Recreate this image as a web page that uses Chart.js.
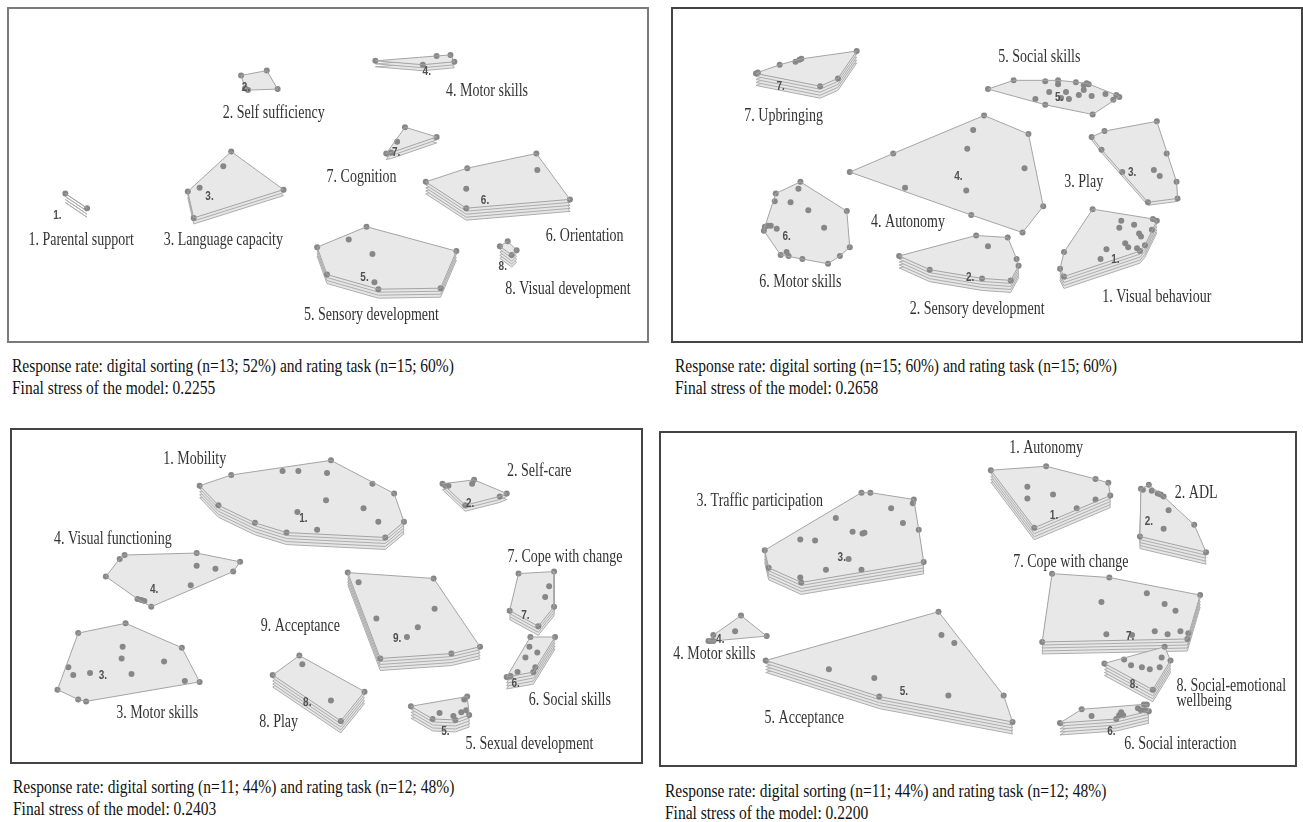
<!DOCTYPE html>
<html>
<head>
<meta charset="utf-8">
<script src="https://cdn.jsdelivr.net/npm/chart.js@4"></script>
<style>
  body { margin: 0; background: #fff; width: 1303px; height: 822px; overflow: hidden; position: relative; }
  .panel { position: absolute; box-sizing: border-box; border: 2px solid #444; background: #fff; }
  .panel canvas { display: block; }
  .caption {
    position: absolute; font-family: "Liberation Serif", serif; font-size: 15.5px; line-height: 17.2px;
    color: #111; white-space: nowrap; transform: scaleY(1.28); transform-origin: top left;
  }
</style>
</head>
<body>
<div class="panel" id="p1" style="left:7px;top:7px;width:642px;height:336px;border-color:#7a7a7a"><canvas id="c1"></canvas></div>
<div class="panel" id="p2" style="left:671px;top:7px;width:632px;height:336px"><canvas id="c2"></canvas></div>
<div class="panel" id="p3" style="left:10px;top:428px;width:633px;height:336px"><canvas id="c3"></canvas></div>
<div class="panel" id="p4" style="left:659px;top:431px;width:638px;height:336px"><canvas id="c4"></canvas></div>

<div class="caption" style="left:12px;top:354px">Response rate: digital sorting (n=13; 52%) and rating task (n=15; 60%)<br>Final stress of the model: 0.2255</div>
<div class="caption" style="left:675px;top:354px">Response rate: digital sorting (n=15; 60%) and rating task (n=15; 60%)<br>Final stress of the model: 0.2658</div>
<div class="caption" style="left:13px;top:775px">Response rate: digital sorting (n=11; 44%) and rating task (n=12; 48%)<br>Final stress of the model: 0.2403</div>
<div class="caption" style="left:665px;top:779px">Response rate: digital sorting (n=11; 44%) and rating task (n=12; 48%)<br>Final stress of the model: 0.2200</div>

<script>
// statement positions on each concept map (map units = position on the page figure)
// panel 1
const tlNames = ['1. Parental support', '2. Self sufficiency', '3. Language capacity', '4. Motor skills',
  '5. Sensory development', '6. Orientation', '7. Cognition', '8. Visual development'];
const tlStack = [3, 0, 2, 2, 3, 4, 2, 4];
const tlPoints = [
  [[62,194],[84,209]],
  [[240,73],[266,68],[277,87],[247,88],[244,86]],
  [[230,151],[222,166],[198,188],[186,192],[283,190],[192,219]],
  [[376,58],[438,53],[452,52],[456,59],[424,62]],
  [[317,249],[367,228],[349,241],[373,256],[458,253],[327,277],[375,285],[379,292],[442,291]],
  [[427,182],[469,168],[539,153],[540,170],[468,189],[573,200],[468,209]],
  [[406,126],[438,136],[398,141],[387,153],[392,152]],
  [[502,248],[510,243],[519,252],[514,257]]
];

// panel 2
const trNames = ['1. Visual behaviour', '2. Sensory development', '3. Play', '4. Autonomy',
  '5. Social skills', '6. Motor skills', '7. Upbringing'];
const trStack = [4, 4, 1, 0, 0, 0, 4];
const trPoints = [
  [[1094,210],[1155,220],[1159,222],[1123,222],[1136,226],[1121,229],[1154,231],[1141,235],[1143,238],[1127,245],
   [1147,247],[1130,249],[1139,250],[1142,253],[1108,251],[1102,261],[1065,254],[1061,271],[1065,279]],
  [[898,258],[929,272],[976,237],[1008,239],[988,248],[1017,261],[1019,268],[1011,283],[982,281]],
  [[1093,136],[1106,130],[1159,120],[1169,153],[1103,149],[1124,172],[1156,170],[1162,176],[1179,182],[1180,199],[1150,203]],
  [[984,114],[973,129],[967,148],[892,153],[848,172],[904,188],[966,191],[971,216],[1029,133],[1025,168],[1044,207],[1023,234]],
  [[988,87],[1014,78],[1046,79],[1059,78],[1059,82],[1077,80],[1085,83],[1088,81],[1090,82],[1085,88],[1050,90],[1067,90],
   [1062,96],[1070,97],[1080,93],[1093,94],[1107,92],[1118,93],[1121,95],[1115,98],[1036,97],[1046,103],[1094,113]],
  [[798,182],[796,189],[773,194],[772,202],[788,203],[806,211],[845,212],[822,229],[762,228],[765,227],[768,227],[774,230],
   [761,232],[848,249],[838,258],[826,266],[800,261],[784,254],[786,258],[778,257]],
  [[855,48],[836,76],[818,84],[799,56],[793,59],[797,57],[777,62],[755,70],[753,71]]
];

// panel 3
const blNames = ['1. Mobility', '2. Self-care', '3. Motor skills', '4. Visual functioning', '5. Sexual development',
  '6. Social skills', '7. Cope with change', '8. Play', '9. Acceptance'];
const blStack = [4, 2, 0, 0, 4, 4, 3, 4, 4];
const blPoints = [
  [[198,483],[230,472],[282,468],[298,468],[217,503],[297,510],[254,521],[286,531],[317,528],[331,457],[327,470],
   [373,481],[395,491],[326,498],[364,506],[405,520],[379,520],[386,536]],
  [[444,481],[447,483],[450,483],[476,477],[474,481],[509,491],[502,494],[467,503]],
  [[75,634],[123,624],[180,649],[120,648],[119,660],[162,663],[65,669],[70,677],[87,675],[129,676],[183,683],[198,684],
   [54,692],[75,702],[83,704]],
  [[122,554],[117,558],[103,576],[195,552],[195,565],[214,568],[239,561],[232,571],[189,585],[135,599],[139,600],[142,601],[149,607]],
  [[412,709],[466,702],[469,699],[441,716],[463,715],[468,713],[455,719],[471,718],[434,722],[457,723]],
  [[533,638],[558,638],[532,648],[540,654],[528,659],[538,669],[536,674],[520,674],[509,679],[513,678]],
  [[521,573],[557,571],[552,586],[548,597],[557,607],[512,611],[541,627]],
  [[299,657],[302,666],[272,677],[365,694],[331,703],[341,724]],
  [[348,572],[359,582],[435,578],[436,609],[377,619],[419,628],[408,638],[482,648],[453,655],[381,660]]
];

// panel 4
const brNames = ['1. Autonomy', '2. ADL', '3. Traffic participation', '4. Motor skills', '5. Acceptance',
  '6. Social interaction', '7. Cope with change', '8. Social-emotional\nwellbeing'];
const brStack = [4, 4, 4, 0, 4, 4, 4, 4];
const brPoints = [
  [[991,467],[1047,463],[1097,476],[1110,480],[1112,493],[1097,497],[1078,506],[1028,484],[1028,496],[1054,492],[1035,526]],
  [[1143,486],[1145,487],[1151,482],[1154,488],[1160,491],[1163,492],[1166,494],[1171,508],[1166,527],[1197,523],[1142,535],[1209,551]],
  [[860,490],[869,490],[913,497],[912,501],[890,506],[834,516],[902,521],[918,528],[851,530],[861,532],[863,531],[798,538],
   [813,539],[762,549],[847,558],[923,561],[766,567],[824,569],[860,569],[798,577],[799,582]],
  [[738,616],[732,632],[764,637],[710,636],[705,642],[707,642],[710,642]],
  [[938,612],[941,636],[954,644],[763,662],[827,671],[873,680],[948,698],[878,699],[1004,698],[1013,725]],
  [[1061,726],[1083,712],[1093,719],[1118,722],[1121,718],[1123,715],[1125,718],[1140,711],[1143,713],[1147,713],[1149,707],[1151,714],[1146,707]],
  [[1053,573],[1111,577],[1149,593],[1103,602],[1167,604],[1178,611],[1203,595],[1108,635],[1157,632],[1170,635],[1183,632],
   [1191,634],[1190,640],[1043,643],[1134,636]],
  [[1167,648],[1164,659],[1173,662],[1126,661],[1106,665],[1133,667],[1144,669],[1152,671],[1162,669],[1155,692]]
];

// label placement (layout only)
const tlNumAt = [[54,216],[245,85],[208,197],[428,69],[365,280],[487,201],[397,152],[505,269]];
const tlNameAt = [[78,242],[273,112],[222,242],[489,89],[372,319],[588,238],[362,177],[571,292]];
const trNumAt = [[1117,262],[970,280],[1134,172],[958,177],[1060,96],[784,238],[778,84]];
const trNameAt = [[1159,300],[977,313],[1085,183],[907,223],[1040,54],[798,285],[781,115]];
const blNumAt = [[303,517],[472,501],[100,677],[152,589],[447,735],[518,686],[528,616],[307,705],[398,640]];
const blNameAt = [[193,456],[542,468],[155,716],[110,538],[532,748],[573,703],[568,556],[278,725],[300,627]];
const brNumAt = [[1055,513],[1151,520],[840,556],[717,640],[903,694],[1113,735],[1132,637],[1136,687]];
const brNameAt = [[1047,445],[1199,491],[757,499],[711,656],[802,721],[1183,748],[1072,561],[1179,688,'left']];

const SHEET_GAP = 3;
const TEXT_STRETCH = 1.27;

function convexHull(pts) {
  const p = pts.map(q => ({ x: q[0], y: q[1] })).sort((a, b) => a.x - b.x || a.y - b.y);
  if (p.length < 3) return p;
  const cross = (o, a, b) => (a.x - o.x) * (b.y - o.y) - (a.y - o.y) * (b.x - o.x);
  const lower = [], upper = [];
  for (const q of p) {
    while (lower.length >= 2 && cross(lower[lower.length - 2], lower[lower.length - 1], q) <= 0) lower.pop();
    lower.push(q);
  }
  for (let i = p.length - 1; i >= 0; i--) {
    const q = p[i];
    while (upper.length >= 2 && cross(upper[upper.length - 2], upper[upper.length - 1], q) <= 0) upper.pop();
    upper.push(q);
  }
  upper.pop(); lower.pop();
  return lower.concat(upper);
}

function stretchedText(ctx, txt, x, y, align) {
  ctx.save();
  ctx.translate(x, y);
  ctx.scale(1, TEXT_STRETCH);
  ctx.textAlign = align;
  ctx.textBaseline = 'middle';
  ctx.fillText(txt, 0, 0);
  ctx.restore();
}

function makePanel(canvasId, panelId, names, stack, points, numAt, nameAt) {
  const box = document.getElementById(panelId);
  const w = box.clientWidth, h = box.clientHeight;
  const left = box.offsetLeft + box.clientLeft, top = box.offsetTop + box.clientTop;
  const canvas = document.getElementById(canvasId);
  canvas.width = w; canvas.height = h;

  const hulls = points.map(convexHull);

  const sheets = {
    id: 'sheets',
    beforeDatasetsDraw(chart) {
      const { ctx, scales: { x, y } } = chart;
      hulls.forEach((hull, i) => {
        const px = hull.map(q => [x.getPixelForValue(q.x), y.getPixelForValue(q.y)]);
        const path = (dy) => {
          ctx.beginPath();
          px.forEach((q, k) => k ? ctx.lineTo(q[0], q[1] + dy) : ctx.moveTo(q[0], q[1] + dy));
          ctx.closePath();
        };
        ctx.save();
        ctx.lineWidth = 1;
        for (let k = stack[i]; k >= 1; k--) {
          path(k * SHEET_GAP);
          ctx.fillStyle = '#e6e6e6';
          ctx.fill();
          ctx.strokeStyle = '#adadad';
          ctx.stroke();
        }
        path(0);
        ctx.fillStyle = '#e8e8e8';
        ctx.fill();
        ctx.restore();
      });
    },
    afterDatasetsDraw(chart) {
      const { ctx, scales: { x, y } } = chart;
      ctx.save();
      ctx.fillStyle = '#505050';
      ctx.font = 'bold 10px "Liberation Sans", Arial, sans-serif';
      numAt.forEach((p, i) => {
        stretchedText(ctx, (i + 1) + '.', x.getPixelForValue(p[0]), y.getPixelForValue(p[1]), 'center');
      });
      ctx.fillStyle = '#333';
      ctx.font = '14px "Liberation Serif", "Times New Roman", serif';
      nameAt.forEach((p, i) => {
        const lines = names[i].split('\n');
        lines.forEach((ln, j) => {
          stretchedText(ctx, ln, x.getPixelForValue(p[0]), y.getPixelForValue(p[1]) + j * 15, p[2] || 'center');
        });
      });
      ctx.restore();
    }
  };

  const datasets = hulls.map((hull) => ({
    data: hull.concat([hull[0]]),
    showLine: true,
    tension: 0,
    fill: false,
    borderColor: '#a4a4a4',
    borderWidth: 1,
    pointRadius: 0
  }));
  datasets.push({
    data: points.flat().map(q => ({ x: q[0], y: q[1] })),
    showLine: false,
    pointRadius: 3,
    pointBackgroundColor: '#878787',
    pointBorderWidth: 0
  });

  new Chart(canvas, {
    type: 'scatter',
    data: { datasets },
    options: {
      responsive: false,
      animation: false,
      events: [],
      layout: { padding: 0 },
      plugins: { legend: { display: false }, tooltip: { enabled: false } },
      scales: {
        x: { type: 'linear', display: false, min: left, max: left + w },
        y: { type: 'linear', display: false, reverse: true, min: top, max: top + h }
      }
    },
    plugins: [sheets]
  });
}

makePanel('c1', 'p1', tlNames, tlStack, tlPoints, tlNumAt, tlNameAt);
makePanel('c2', 'p2', trNames, trStack, trPoints, trNumAt, trNameAt);
makePanel('c3', 'p3', blNames, blStack, blPoints, blNumAt, blNameAt);
makePanel('c4', 'p4', brNames, brStack, brPoints, brNumAt, brNameAt);
</script>
</body>
</html>
